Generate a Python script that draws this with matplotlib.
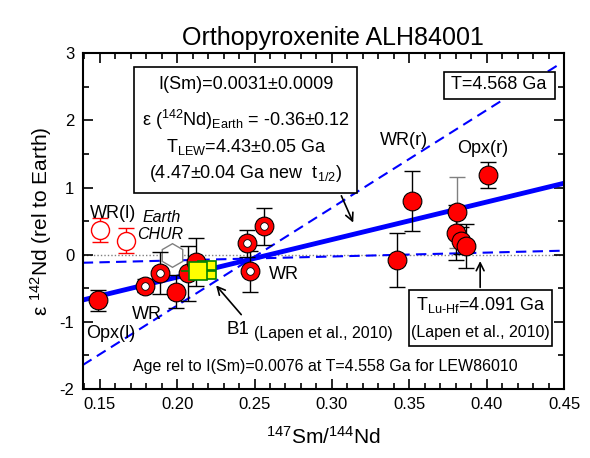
import numpy as np
import matplotlib
matplotlib.use('Agg')
import matplotlib.pyplot as plt
from matplotlib.patches import Rectangle
from matplotlib.ticker import MultipleLocator, FormatStrFormatter

plt.rcParams['font.family'] = ['Liberation Sans', 'DejaVu Sans']
plt.rcParams['mathtext.fontset'] = 'custom'
plt.rcParams['mathtext.rm'] = 'Liberation Sans'
plt.rcParams['mathtext.it'] = 'Liberation Sans:italic'
plt.rcParams['mathtext.bf'] = 'Liberation Sans:bold'
plt.rcParams['axes.unicode_minus'] = False

# filled red circles (Opx)
filled_x = [0.149, 0.199, 0.207, 0.212, 0.342, 0.3517, 0.3807, 0.3799, 0.3833, 0.3867, 0.4011]
filled_y = [-0.68, -0.55, -0.28, -0.11, -0.08, 0.80, 0.63, 0.33, 0.21, 0.13, 1.19]
filled_err = [0.16, 0.25, 0.41, 0.36, 0.40, 0.45, 0.53, 0.41, 0.20, 0.33, 0.19]

# ring markers (WR)
ring_x = [0.179, 0.189, 0.245, 0.247, 0.256]
ring_y = [-0.46, -0.27, 0.17, -0.25, 0.42]
ring_err = [0.10, 0.31, 0.20, 0.31, 0.27]

# open red circles WR(l)
open_x = [0.150, 0.1668]
open_y = [0.37, 0.21]
open_err = [0.18, 0.19]

# B1 (Lapen et al., 2010)
b1_x = [0.2191, 0.2138]
b1_y = [-0.235, -0.24]
b1_xerr = [0.004, 0.0116]

# Earth CHUR
chur_x = [0.1967]
chur_y = [0.0]

# lines
reg_x = [0.139, 0.45]
reg_y = [-0.675, 1.064]
t4568_x = [0.139, 0.448]
t4568_y = [-1.644, 2.852]
luhf_x = [0.139, 0.45]
luhf_y = [-0.12, 0.06]

fig = plt.figure(figsize=(5.9, 4.58), dpi=100)
ax = fig.add_axes([0.1402, 0.1507, 0.8158, 0.733])

ax.axhline(0, color='gray', ls=(0, (1, 1.5)), lw=1, zorder=1)
ax.plot(reg_x, reg_y, color='#0000ff', lw=3.5, zorder=2)
ax.plot(t4568_x, t4568_y, color='#0000ff', lw=1.5, ls=(0, (5, 3)), zorder=2)
ax.plot(luhf_x, luhf_y, color='#0000ff', lw=1.5, ls=(0, (5, 3)), zorder=2)

ax.plot(chur_x, chur_y, marker='h', ms=17, mfc='white', mec='gray', mew=1, ls='none', zorder=2.5)

ax.errorbar(open_x, open_y, yerr=open_err, fmt='o', ms=13, mfc='white', mec='red', mew=1,
            ecolor='red', elinewidth=1, capsize=5.5, capthick=1, zorder=3)

for i in range(len(filled_x)):
    ec = 'gray' if i == 6 else 'black'
    ax.errorbar(filled_x[i], filled_y[i], yerr=filled_err[i], fmt='none', ecolor=ec,
                elinewidth=1, capsize=5.5, capthick=1, zorder=3)
ax.errorbar(ring_x, ring_y, yerr=ring_err, fmt='none', ecolor='black',
            elinewidth=1, capsize=5.5, capthick=1, zorder=3)

ax.plot(filled_x, filled_y, 'o', ms=13.5, mfc='red', mec='black', mew=0.8, zorder=4)
ax.plot(ring_x, ring_y, 'o', ms=13.5, mfc='red', mec='black', mew=0.8, zorder=4)
ax.plot(ring_x, ring_y, 'o', ms=5.5, mfc='white', mec='black', mew=0.6, zorder=4.1)

for i in range(len(b1_x)):
    ax.errorbar(b1_x[i], b1_y[i], xerr=b1_xerr[i], fmt='s', ms=12.5, mfc='yellow', mec='green',
                mew=1.2, ecolor='green', elinewidth=1.2, capsize=0, zorder=5 + i)
ax.plot([b1_x[0] - 0.0055, b1_x[0] + 0.0055], [b1_y[0], b1_y[0]], color='green', lw=1.2, zorder=5.5)

ax.set_xlim(0.139, 0.45)
ax.set_ylim(-2, 3)
ax.xaxis.set_major_locator(MultipleLocator(0.05))
ax.xaxis.set_minor_locator(MultipleLocator(0.01))
ax.yaxis.set_major_locator(MultipleLocator(1))
ax.yaxis.set_minor_locator(MultipleLocator(0.5))
ax.xaxis.set_major_formatter(FormatStrFormatter('%.2f'))
ax.tick_params(which='both', direction='in', top=True, right=True, labelsize=12, width=1.2)
ax.tick_params(which='major', length=7, pad=6)
ax.tick_params(which='minor', length=4)
for s in ax.spines.values():
    s.set_linewidth(1.5)

ax.set_xlabel('$^{147}$Sm/$^{144}$Nd', fontsize=15, labelpad=10)
ax.set_ylabel('ε $^{142}$Nd (rel to Earth)', fontsize=15, labelpad=4)
ax.set_title('Orthopyroxenite ALH84001', fontsize=18, pad=6, x=0.52)

# box 1
ax.add_patch(Rectangle((0.1724, 0.924), 0.144, 1.869, fill=True, fc='white', ec='black', lw=1.2, zorder=6))
bx = 0.2444
ax.text(bx, 2.528, 'I(Sm)=0.0031±0.0009', ha='center', va='center', fontsize=13, zorder=7)
ax.text(bx, 2.0, 'ε ($^{142}$Nd)$_{\\mathrm{Earth}}$ = -0.36±0.12', ha='center', va='center', fontsize=13, zorder=7)
ax.text(bx, 1.61, 'T$_{\\mathrm{LEW}}$=4.43±0.05 Ga', ha='center', va='center', fontsize=13, zorder=7)
ax.text(bx, 1.213, '(4.47±0.04 Ga new  t$_{\\mathrm{1/2}}$)', ha='center', va='center', fontsize=13, zorder=7)

# box 2
ax.add_patch(Rectangle((0.3725, 2.32), 0.0717, 0.407, fill=True, fc='white', ec='black', lw=1.2, zorder=6))
ax.text(0.408, 2.53, 'T=4.568 Ga', ha='center', va='center', fontsize=13, zorder=7)

# box 3
ax.add_patch(Rectangle((0.3501, -1.356), 0.092, 0.83, fill=True, fc='white', ec='black', lw=1.2, zorder=6))
ax.text(0.3958, -0.75, 'T$_{\\mathrm{Lu\\text{-}Hf}}$=4.091 Ga', ha='center', va='center', fontsize=13, zorder=7)
ax.text(0.3958, -1.157, '(Lapen et al., 2010)', ha='center', va='center', fontsize=11.5, zorder=7)

# labels
ax.text(0.3467, 1.70, 'WR(r)', ha='center', va='center', fontsize=13)
ax.text(0.3977, 1.575, 'Opx(r)', ha='center', va='center', fontsize=13)
ax.text(0.1588, 0.62, 'WR(l)', ha='center', va='center', fontsize=13)
ax.text(0.1898, 0.554, 'Earth', ha='center', va='center', fontsize=11.5, style='italic')
ax.text(0.1892, 0.294, 'CHUR', ha='center', va='center', fontsize=11.5, style='italic')
ax.text(0.2692, -0.30, 'WR', ha='center', va='center', fontsize=13)
ax.text(0.1808, -0.885, 'WR', ha='center', va='center', fontsize=13)
ax.text(0.1569, -1.18, 'Opx(l)', ha='center', va='center', fontsize=13)
ax.text(0.2395, -1.12, 'B1', ha='center', va='center', fontsize=13.5)
ax.text(0.2499, -1.167, '(Lapen et al., 2010)', ha='left', va='center', fontsize=11.5)
ax.text(0.1716, -1.67, 'Age rel to I(Sm)=0.0076 at T=4.558 Ga for LEW86010', ha='left', va='center', fontsize=11.5)

# arrows
arw = dict(arrowstyle='->', color='black', lw=1.2, mutation_scale=14)
ax.annotate('', xy=(0.3145, 0.44), xytext=(0.3054, 0.915), arrowprops=arw, zorder=7)
ax.annotate('', xy=(0.224, -0.426), xytext=(0.2426, -0.924), arrowprops=arw, zorder=7)
ax.annotate('', xy=(0.3958, -0.054), xytext=(0.3958, -0.528), arrowprops=arw, zorder=7)

fig.savefig('out.png', dpi=100)
